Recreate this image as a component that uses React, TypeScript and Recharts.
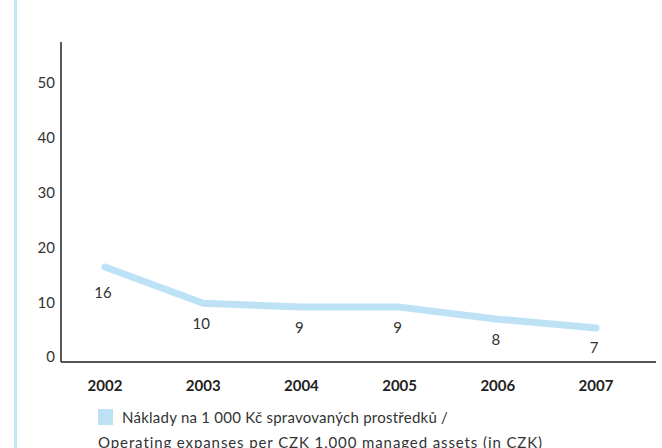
import React from 'react';
import { LineChart, Line, XAxis, YAxis, LabelList } from 'recharts';

const years = ['2002', '2003', '2004', '2005', '2006', '2007'];
const costValues = [16.4, 9.8, 9.1, 9.1, 6.9, 5.3];
const costLabels = [16, 10, 9, 9, 8, 7];
const yTicks = [0, 10, 20, 30, 40, 50];
const seriesNameCz = 'Náklady na 1 000 Kč spravovaných prostředků /';
const seriesNameEn = 'Operating expanses per CZK 1,000 managed assets (in CZK)';

const data = years.map((y, i) => ({ year: y, value: costValues[i], label: costLabels[i] }));

const FONT = 'Lato, "Open Sans", sans-serif';
const LINE_COLOR = '#bde2f6';
const TEXT = '#333333';

const YTick = (props: any) => {
  const { y, payload } = props;
  return (
    <text x={55} y={y} dy="0.36em" textAnchor="end" fontFamily={FONT} fontSize={15} fill={TEXT}>
      {payload.value}
    </text>
  );
};

const XTick = (props: any) => {
  const { x, payload } = props;
  return (
    <text x={x} y={386} dy="0.36em" textAnchor="middle" fontFamily={FONT} fontSize={15} fontWeight={700} fill="#222">
      {payload.value}
    </text>
  );
};

const ValueLabel = (props: any) => {
  const { x, y, index } = props;
  const extra = index === 0 ? 6 : 0;
  return (
    <text x={x - 2} y={y + 20 + extra} dy="0.36em" textAnchor="middle" fontFamily={FONT} fontSize={15} fill={TEXT}>
      {costLabels[index]}
    </text>
  );
};

export default function App() {
  return (
    <div style={{ position: 'absolute', left: 0, top: 0, width: 662, height: 448, overflow: 'hidden', background: '#fff' }}>
      <div style={{ position: 'absolute', left: 14, top: 0, width: 2.5, height: 448, background: '#c4e6f7' }} />
      <LineChart width={662} height={448} data={data} margin={{ top: 42, right: 6, left: 31, bottom: 56 }}>
        <XAxis
          dataKey="year"
          height={30}
          padding={{ left: 44, right: 60 }}
          axisLine={{ stroke: '#555', strokeWidth: 2 }}
          tickLine={false}
          tick={<XTick />}
          interval={0}
        />
        <YAxis
          type="number"
          width={30}
          domain={[-0.9, 57.4]}
          allowDataOverflow
          ticks={yTicks}
          axisLine={{ stroke: '#222', strokeWidth: 1.5 }}
          tickLine={false}
          tick={<YTick />}
        />
        <Line
          type="linear"
          dataKey="value"
          stroke={LINE_COLOR}
          strokeWidth={7}
          strokeLinecap="round"
          strokeLinejoin="round"
          dot={false}
          activeDot={false}
          isAnimationActive={false}
        >
          <LabelList dataKey="label" content={<ValueLabel />} />
        </Line>
      </LineChart>
      <div style={{ position: 'absolute', left: 98, top: 409, width: 15, height: 16, background: LINE_COLOR }} />
      <div style={{ position: 'absolute', left: 122, top: 407, fontFamily: FONT, fontSize: 15, letterSpacing: 0.25, color: TEXT, whiteSpace: 'nowrap', lineHeight: '20px' }}>
        {seriesNameCz}
      </div>
      <div style={{ position: 'absolute', left: 98, top: 432, fontFamily: FONT, fontSize: 15, letterSpacing: 0.9, color: TEXT, whiteSpace: 'nowrap', lineHeight: '20px' }}>
        {seriesNameEn}
      </div>
    </div>
  );
}
